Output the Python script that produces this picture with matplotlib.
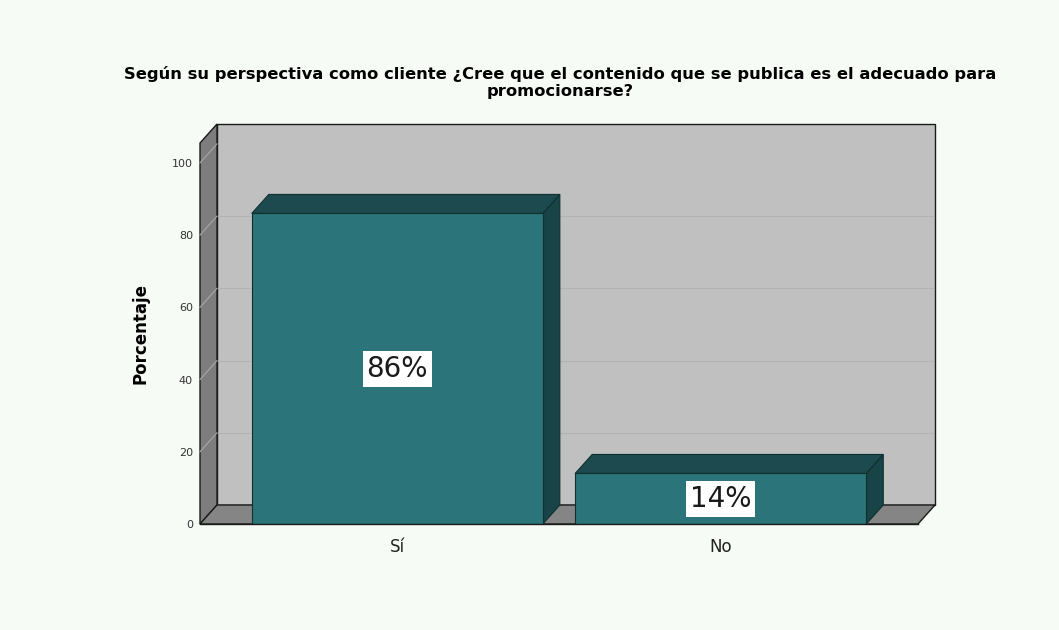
import matplotlib.pyplot as plt
from matplotlib.patches import Polygon, Rectangle

categories = ['Sí', 'No']
percentages = [86, 14]
value_labels = ['86%', '14%']
y_ticks = [0, 20, 40, 60, 80, 100]

title = ('Según su perspectiva como cliente ¿Cree que el contenido que se publica es el adecuado para\n'
         'promocionarse?')

bg = '#f7fbf6'
wall = '#c0c0c0'
side_wall = '#7d7d7d'
floor = '#858585'
bar_front = '#2b7479'
bar_top = '#1c4a4f'
bar_side = '#184347'
edge = '#1a1a1a'

fig = plt.figure(figsize=(10.59, 6.3), dpi=100, facecolor=bg)
ax = fig.add_axes([200 / 1059, 106 / 630, 718 / 1059, 381 / 630])
ax.set_facecolor('none')

x0, x1 = -0.61, 1.61
ymax = 105.5
ax.set_xlim(x0, x1)
ax.set_ylim(0, ymax)

# depth of the pseudo 3d box, in data units
dx, dy = 0.0526, 5.26

# back wall, side wall and floor
ax.add_patch(Rectangle((x0 + dx, dy), x1 - x0, ymax, facecolor=wall,
                       edgecolor=edge, linewidth=1.0, clip_on=False, zorder=0))
ax.add_patch(Polygon([(x0, 0), (x0, ymax), (x0 + dx, ymax + dy), (x0 + dx, dy)],
                     closed=True, facecolor=side_wall, edgecolor=edge,
                     linewidth=1.0, clip_on=False, zorder=1))
ax.add_patch(Polygon([(x0, 0), (x1, 0), (x1 + dx, dy), (x0 + dx, dy)],
                     closed=True, facecolor=floor, edgecolor=edge,
                     linewidth=1.0, clip_on=False, zorder=1))

# faint grid on the walls
for t in y_ticks[1:-1]:
    ax.plot([x0 + dx, x1 + dx - 0.005], [t + dy, t + dy], color='#b3b3b3',
            linewidth=0.8, clip_on=False, zorder=0.5, solid_capstyle='butt')
for t in y_ticks[1:]:
    ax.plot([x0, x0 + dx], [t, t + dy], color='#a8a8a8',
            linewidth=0.8, clip_on=False, zorder=1.5)

width = 0.9
for i, (v, lab) in enumerate(zip(percentages, value_labels)):
    left, right = i - width / 2, i + width / 2
    ax.add_patch(Polygon([(right, 0), (right, v), (right + dx, v + dy), (right + dx, dy)],
                         closed=True, facecolor=bar_side, edgecolor='#10302f',
                         linewidth=0.8, clip_on=False, zorder=2))
    ax.add_patch(Polygon([(left, v), (right, v), (right + dx, v + dy), (left + dx, v + dy)],
                         closed=True, facecolor=bar_top, edgecolor='#10302f',
                         linewidth=0.8, clip_on=False, zorder=2))
    ax.bar(i, v, width=width, color=bar_front, edgecolor='#10302f', linewidth=0.8, zorder=3)
    ax.text(i, v / 2, lab, ha='center', va='center', fontsize=20, color='#1a1a1a',
            zorder=4, bbox=dict(boxstyle='square,pad=0.14', facecolor='white',
                                edgecolor='none'))

ax.plot([x0, x1], [0, 0], color=edge, linewidth=1.0, clip_on=False, zorder=3)

for s in ax.spines.values():
    s.set_visible(False)
ax.set_yticks(y_ticks)
ax.set_yticklabels([str(t) for t in y_ticks], fontsize=8, color='#333333')
ax.tick_params(axis='y', length=0, pad=5)
ax.set_xticks(range(len(categories)))
ax.set_xticklabels(categories, fontsize=12, color='#222222')
ax.tick_params(axis='x', length=0, pad=10)

ax.set_ylabel('Porcentaje', fontsize=12, fontweight='bold', labelpad=16)

fig.text(560 / 1059, 1 - 66 / 630, title, ha='center', va='top', fontsize=11.8,
         fontweight='bold', linespacing=1.2)

fig.savefig('out.png', dpi=100, facecolor=bg)
